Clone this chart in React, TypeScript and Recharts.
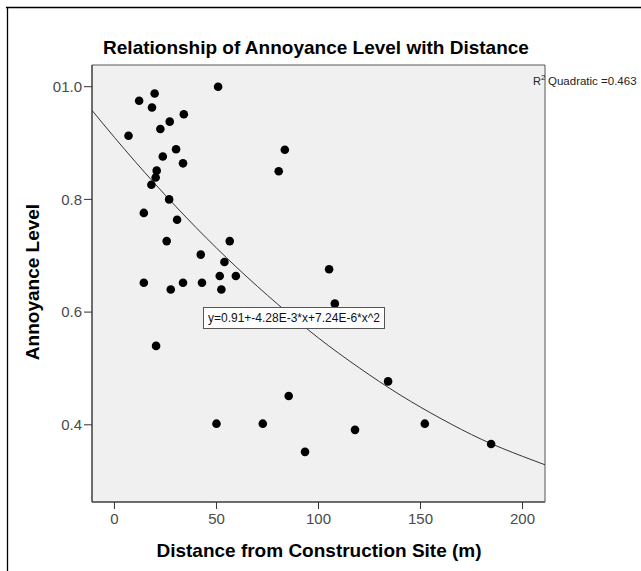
import React from 'react';
import {
  ComposedChart,
  Scatter,
  Line,
  XAxis,
  YAxis,
  ReferenceArea,
} from 'recharts';

// 측정값 (거리 m, 불쾌도)
const distances = [
  19.7, 12.1, 18.4, 50.8, 34.0, 27.1, 22.5, 6.9, 30.2, 23.7, 33.6, 20.7, 20.2,
  18.1, 26.8, 14.4, 30.7, 25.6, 56.5, 42.3, 53.9, 14.4, 27.6, 33.6, 42.9, 51.6,
  59.5, 52.4, 80.5, 83.5, 105.2, 108.0, 20.4, 50.0, 72.7, 134.1, 85.4, 93.4,
  117.9, 152.1, 184.6,
];
const annoyance = [
  0.988, 0.975, 0.963, 1.0, 0.951, 0.938, 0.925, 0.913, 0.889, 0.876, 0.864,
  0.851, 0.839, 0.826, 0.8, 0.776, 0.764, 0.726, 0.726, 0.702, 0.689, 0.652,
  0.64, 0.652, 0.652, 0.664, 0.664, 0.64, 0.85, 0.888, 0.676, 0.615, 0.54,
  0.402, 0.402, 0.477, 0.451, 0.352, 0.391, 0.402, 0.366,
];

// 이차 회귀 곡선
const fitDistances = [-11, 0, 20, 40, 60, 80, 100, 120, 140, 160, 180, 200, 211];
const fitLevels = [
  0.958, 0.91, 0.827, 0.75, 0.679, 0.614, 0.554, 0.501, 0.453, 0.411, 0.374,
  0.344, 0.329,
];

// 축 설정
const X_DOMAIN: [number, number] = [-11, 211];
const Y_DOMAIN: [number, number] = [0.263, 1.0385];
const xTicks = [0, 50, 100, 150, 200];
const yTicks = [0.4, 0.6, 0.8, 1.0];
const yTickLabels = ['0.4', '0.6', '0.8', '01.0'];

const TITLE = 'Relationship of Annoyance Level with Distance';
const X_TITLE = 'Distance from Construction Site (m)';
const Y_TITLE = 'Annoyance Level';
const EQUATION = 'y=0.91+-4.28E-3*x+7.24E-6*x^2';
const R2_TEXT = 'Quadratic =0.463';

const FONT = '"Liberation Sans", Arial, sans-serif';

const points = distances.map((x, i) => ({ x, y: annoyance[i] }));
const fitData = fitDistances.map((x, i) => ({ x, y: fitLevels[i] }));

const Dot = (props: any) => (
  <circle cx={props.cx} cy={props.cy} r={4.3} fill="#000" />
);

const App: React.FC = () => {
  return (
    <div style={{ position: 'absolute', left: 0, top: 0, width: 641, height: 571, background: '#fff' }}>
      <ComposedChart
        width={641}
        height={571}
        margin={{ top: 65, right: 96, bottom: 39, left: 12 }}
      >
        <XAxis
          type="number"
          dataKey="x"
          domain={X_DOMAIN}
          ticks={xTicks}
          allowDataOverflow
          height={30}
          tickSize={7}
          tickMargin={4}
          stroke="#333"
          tick={{ fill: '#4a4a4a', fontSize: 15, fontFamily: FONT }}
        />
        <YAxis
          type="number"
          dataKey="y"
          domain={Y_DOMAIN}
          ticks={yTicks}
          allowDataOverflow
          width={80}
          tickSize={8}
          tickMargin={2}
          stroke="#333"
          tickFormatter={(v: number) => yTickLabels[yTicks.indexOf(v)] ?? String(v)}
          tick={{ fill: '#4a4a4a', fontSize: 15, fontFamily: FONT }}
        />
        <ReferenceArea
          x1={X_DOMAIN[0]}
          x2={X_DOMAIN[1]}
          y1={Y_DOMAIN[0]}
          y2={Y_DOMAIN[1]}
          fill="#f0f0f0"
          fillOpacity={1}
          stroke="#555"
          strokeWidth={1}
        />
        <Line
          data={fitData}
          dataKey="y"
          type="monotone"
          stroke="#333"
          strokeWidth={1}
          dot={false}
          activeDot={false}
          isAnimationActive={false}
        />
        <Scatter data={points} shape={Dot} isAnimationActive={false} />
      </ComposedChart>

      {/* 제목, 축 제목, 주석 */}
      <svg
        width={641}
        height={571}
        style={{ position: 'absolute', left: 0, top: 0, pointerEvents: 'none' }}
        fontFamily={FONT}
      >
        <line x1={6} y1={7.5} x2={641} y2={7.5} stroke="#000" strokeWidth={1.3} />
        <line x1={7.5} y1={7} x2={7.5} y2={571} stroke="#000" strokeWidth={1.3} />
        <text x={316} y={54} textAnchor="middle" fontSize={19} fontWeight="bold" fill="#000">
          {TITLE}
        </text>
        <text x={319} y={557} textAnchor="middle" fontSize={19} fontWeight="bold" fill="#000">
          {X_TITLE}
        </text>
        <text
          x={32}
          y={282}
          textAnchor="middle"
          dy="0.35em"
          fontSize={19}
          fontWeight="bold"
          fill="#000"
          transform="rotate(-90 32 282)"
        >
          {Y_TITLE}
        </text>
        <text x={533} y={85} fontSize={11} fill="#222">
          R
        </text>
        <text x={541} y={80} fontSize={8} fill="#222">
          2
        </text>
        <text x={548} y={85} fontSize={11.5} fill="#222">
          {R2_TEXT}
        </text>
        <rect x={203.5} y={307.5} width={181} height={21} fill="#fff" stroke="#555" />
        <text x={294} y={322} textAnchor="middle" fontSize={12} fill="#111">
          {EQUATION}
        </text>
      </svg>
    </div>
  );
};

export default App;
